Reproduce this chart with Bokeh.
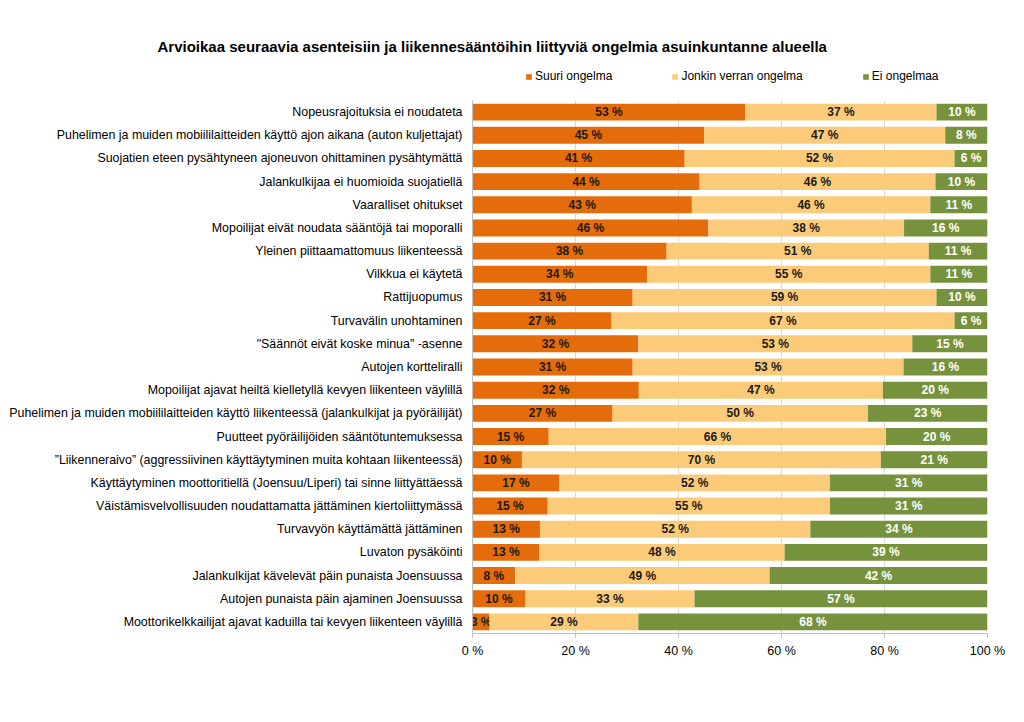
from bokeh.plotting import figure
from bokeh.layouts import column
from bokeh.models import (ColumnDataSource, FactorRange, Range1d, Legend, LegendItem, FixedTicker,
                          Title, Spacer)
from bokeh.core.properties import value
from bokeh.embed import file_html
from bokeh.resources import INLINE

categories = [
    "Nopeusrajoituksia ei noudateta",
    "Puhelimen ja muiden mobiililaitteiden käyttö ajon aikana (auton kuljettajat)",
    "Suojatien eteen pysähtyneen ajoneuvon ohittaminen pysähtymättä",
    "Jalankulkijaa ei huomioida suojatiellä",
    "Vaaralliset ohitukset",
    "Mopoilijat eivät noudata sääntöjä tai moporalli",
    "Yleinen piittaamattomuus liikenteessä",
    "Vilkkua ei käytetä",
    "Rattijuopumus",
    "Turvavälin unohtaminen",
    "\"Säännöt eivät koske minua\" -asenne",
    "Autojen korttelir" + "alli",
    "Mopoilijat ajavat heiltä kielletyllä kevyen liikenteen väylillä",
    "Puhelimen ja muiden mobiililaitteiden käyttö liikenteessä (jalankulkijat ja pyöräilijät)",
    "Puutteet pyöräilijöiden sääntötuntemuksessa",
    "”Liikenneraivo” (aggressiivinen käyttäytyminen muita kohtaan liikenteessä)",
    "Käyttäytyminen moottoritiellä (Joensuu/Liperi) tai sinne liittyättäessä",
    "Väistämisvelvollisuuden noudattamatta jättäminen kiertoliittymässä",
    "Turvavyön käyttämättä jättäminen",
    "Luvaton pysäköinti",
    "Jalankulkijat kävelevät päin punaista Joensuussa",
    "Autojen punaista päin ajaminen Joensuussa",
    "Moottorikelkkailijat ajavat kaduilla tai kevyen liikenteen väylillä",
]

suuri = [53.0, 45.0, 41.2, 44.1, 42.6, 45.8, 37.7, 33.9, 31.1, 27.0, 32.2, 31.1,
         32.3, 27.2, 14.8, 9.6, 16.9, 14.6, 13.1, 13.0, 8.3, 10.3, 3.3]
jonkin = [37.1, 46.8, 52.4, 45.8, 46.3, 38.0, 50.9, 55.0, 59.0, 66.6, 53.2, 52.6,
          47.4, 49.6, 65.5, 69.7, 52.5, 54.8, 52.5, 47.6, 49.4, 32.8, 28.9]
ei = [9.9, 8.2, 6.4, 10.1, 11.1, 16.2, 11.4, 11.1, 9.9, 6.4, 14.6, 16.3,
      20.3, 23.2, 19.7, 20.7, 30.6, 30.6, 34.4, 39.4, 42.3, 56.9, 67.8]

series_names = ["Suuri ongelma", "Jonkin verran ongelma", "Ei ongelmaa"]
colors = ["#E46C0A", "#FCCB7A", "#76923C"]
label_colors = ["#1a1a1a", "#1a1a1a", "#ffffff"]
x_ticks = [0, 20, 40, 60, 80, 100]
title_text = "Arvioikaa seuraavia asenteisiin ja liikennesääntöihin liittyviä ongelmia asuinkuntanne alueella"

FONT = "Liberation Sans"
FRAME_LEFT = 472
SPACER_H = 35
HEAD_H = 57
rev_cats = list(reversed(categories))

# ---- data sources (shared by the chart and the legend proxies) ----
sources = []
starts = [0.0] * len(categories)
for vals in (suuri, jonkin, ei):
    lefts = list(starts)
    rights = [s + v for s, v in zip(starts, vals)]
    sources.append(ColumnDataSource(dict(
        y=categories, left=lefts, right=rights,
        mid=[(a + b) / 2 for a, b in zip(lefts, rights)],
        lab=[f"{round(v)} %" for v in vals],
    )))
    starts = rights

# ---- header figure: title + legend (frame aligned with the main frame by the column) ----
head = figure(width=1008, height=HEAD_H, x_range=Range1d(1000, 1001),
              y_range=FactorRange(*rev_cats, range_padding=0),
              output_backend="svg", toolbar_location=None,
              x_axis_location=None, y_axis_location=None,
              min_border=0, min_border_left=0, min_border_right=0, min_border_top=0, min_border_bottom=0)
head.outline_line_color = None
head.grid.grid_line_color = None
head.background_fill_alpha = 0
head.border_fill_alpha = 0

leg_renderers = []
for src, col in zip(sources, colors):
    # legend proxy: same data as the chart, zero-height bars outside this header's x range
    r = head.hbar(y="y", left="left", right="right", height=0.0, source=src,
                  fill_color=col, line_color=None)
    leg_renderers.append(r)

legend = Legend(items=[LegendItem(label=n, renderers=[r]) for n, r in zip(series_names, leg_renderers)],
                orientation="horizontal", location=(525 - FRAME_LEFT, 9),
                glyph_width=7, glyph_height=7, label_standoff=3, spacing=59,
                padding=0, margin=0, border_line_color=None, background_fill_alpha=0,
                label_text_font=FONT, label_text_font_size="12px", label_height=12,
                label_text_color="#000000")
head.add_layout(legend, "center")

head.title = Title(text=title_text, text_font=FONT, text_font_size="15px", text_font_style="bold",
                   align="left", offset=-315, standoff=0, text_color="#000000")

# ---- main chart ----
p = figure(width=1008, height=700 - SPACER_H - HEAD_H,
           y_range=FactorRange(*rev_cats, range_padding=0),
           x_range=Range1d(0, 100), output_backend="svg", toolbar_location=None,
           min_border_left=FRAME_LEFT, min_border_right=21, min_border_top=8, min_border_bottom=67)
p.outline_line_color = None
p.background_fill_color = "white"

for src, col, lcol in zip(sources, colors, label_colors):
    p.hbar(y="y", left="left", right="right", height=0.73, source=src,
           fill_color=col, line_color=None)
    p.text(x="mid", y="y", text="lab", source=src, text_align="center", text_baseline="middle",
           text_font=value(FONT), text_font_size="12px", text_font_style="bold", text_color=lcol)

p.xaxis.ticker = FixedTicker(ticks=x_ticks)
p.xaxis.major_label_overrides = {t: f"{t} %" for t in x_ticks}
p.xaxis.major_label_text_font = FONT
p.xaxis.major_label_text_font_size = "12.5px"
p.xaxis.major_label_text_color = "#000000"
p.xaxis.axis_line_color = "#bfbfbf"
p.xaxis.major_tick_line_color = "#bfbfbf"
p.xaxis.major_tick_in = 0
p.xaxis.major_tick_out = 4
p.xaxis.minor_tick_line_color = None
p.xaxis.major_label_standoff = 6

p.yaxis.major_label_text_font = FONT
p.yaxis.major_label_text_font_size = "12.4px"
p.yaxis.major_label_text_color = "#000000"
p.yaxis.axis_line_color = "#bfbfbf"
p.yaxis.major_tick_line_color = None
p.yaxis.major_tick_in = 0
p.yaxis.major_tick_out = 0
p.yaxis.minor_tick_line_color = None
p.yaxis.major_label_standoff = 10

p.xgrid.grid_line_color = "#d9d9d9"
p.ygrid.grid_line_color = None

layout = column(Spacer(width=1008, height=SPACER_H), head, p, spacing=0)
open("out.html", "w").write(file_html(layout, INLINE))
